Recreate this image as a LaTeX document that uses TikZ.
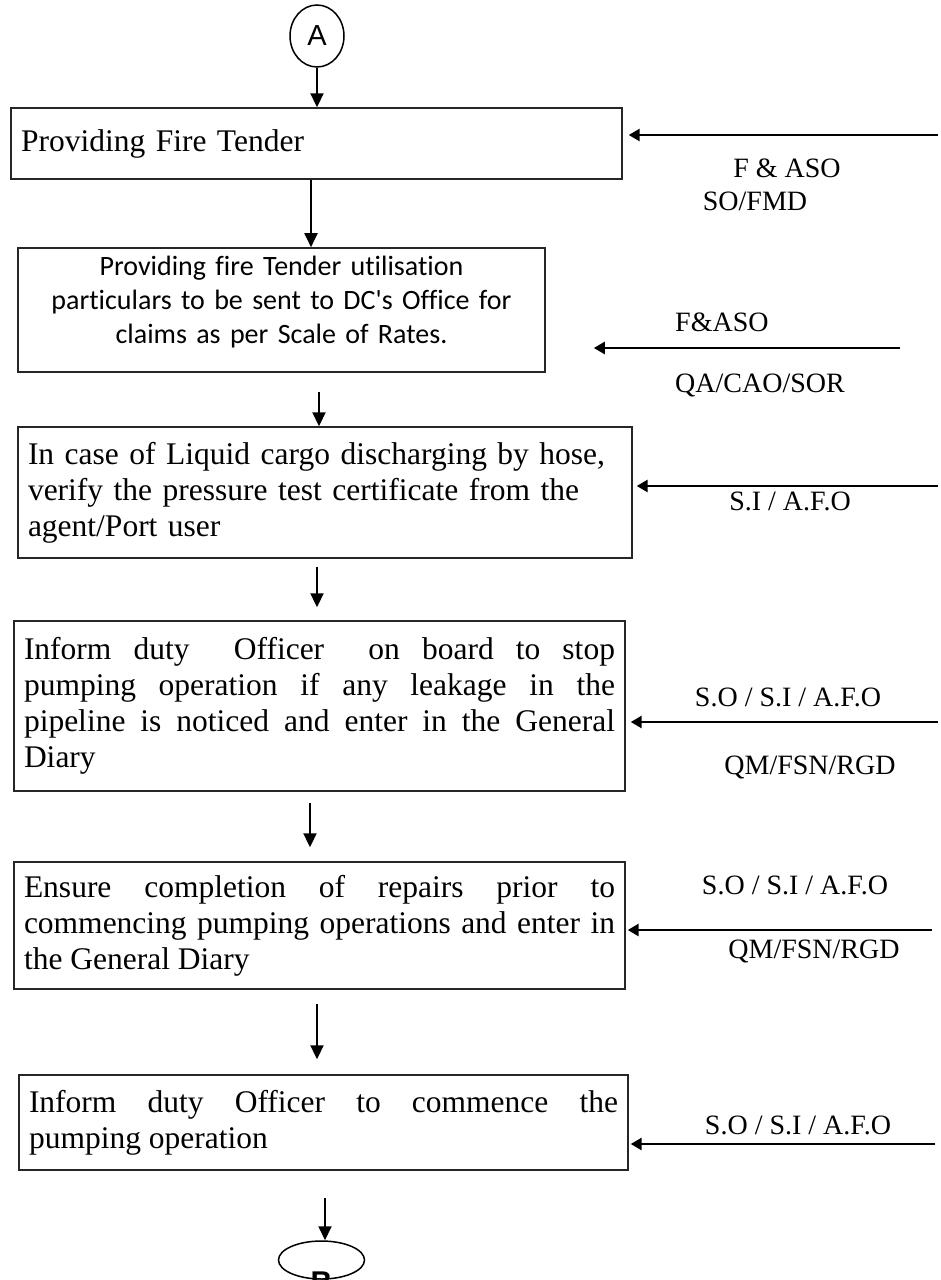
\documentclass[tikz,border=0pt]{standalone}
\usepackage{fontspec}
\setmainfont[Ligatures={NoCommon}]{Liberation Serif}
\newfontfamily\calfont[Ligatures={NoCommon}]{Carlito}
\newfontfamily\arialfont{Liberation Sans}
\usetikzlibrary{arrows.meta,shapes.geometric}

\begin{document}
\begin{tikzpicture}[x=1pt,y=-1pt,
  box/.style={draw=black!85, line width=1.4pt, rectangle, inner xsep=10pt, inner ysep=0pt,
              font=\fontsize{31.5}{36}\selectfont},
  downarrow/.style={line width=1.9pt, -{Triangle[length=14pt,width=13pt]}},
  sidearrow/.style={line width=2.6pt, -{Triangle[length=11pt,width=12pt]}},
  lbl/.style={font=\fontsize{28}{32}\selectfont, inner sep=0pt},
  connector/.style={draw, line width=1.5pt, ellipse, inner sep=0pt},
]
\clip (0,0) rectangle (940,1280);
\fill[white] (0,0) rectangle (940,1280);

% entry connector
\node[connector, minimum width=54pt, minimum height=62pt,
      font=\arialfont\fontsize{29}{29}\selectfont] (A) at (317,36) {A};

% process boxes
\node[box, minimum width=611pt, minimum height=71pt, text width=591pt, align=left]
  (b1) at (316.5,143.5) {Providing Fire Tender};

\node[box, line width=1.6pt, minimum width=527pt, minimum height=124pt] (b2) at (281.5,310) {};
\node[anchor=north, align=center, inner sep=0pt, text width=520pt,
      font=\calfont\fontsize{28}{34}\selectfont] (b2text) at (281.5,256)
  {Providing fire Tender utilisation\\
   particulars to be sent to DC's Office for\\
   claims as per Scale of Rates.};

\node[box, minimum width=614pt, minimum height=131pt, text width=594pt, align=left]
  (b3) at (325,492.5)
  {In case of Liquid cargo discharging by hose,\\
   verify the pressure test certificate from the\\
   agent/Port user};

\node[box, minimum width=611pt, minimum height=170pt, text width=591pt, align=justify]
  (b4) at (319.5,706)
  {Inform duty\ \ Officer\ \ on board to stop\linebreak
   pumping operation if any leakage in the\linebreak
   pipeline is noticed and enter in the General\linebreak
   Diary};

\node[box, minimum width=611pt, minimum height=127pt, text width=591pt, align=justify]
  (b5) at (319.5,925.5)
  {Ensure completion of repairs prior to\linebreak
   commencing pumping operations and enter in\linebreak
   the General Diary};

\node[box, minimum width=609pt, minimum height=95pt, text width=589pt, align=justify]
  (b6) at (323.5,1122.5)
  {Inform duty Officer to commence the\linebreak
   pumping operation};

% exit connector
\node[connector, minimum width=86pt, minimum height=38pt] (Bc) at (321.5,1260) {};
\node[inner sep=0pt, font=\arialfont\bfseries\fontsize{30}{30}\selectfont] (Bt) at (321.5,1282) {B};

% flow arrows
\draw[downarrow] (A.south) -- (A.south |- b1.north);
\coordinate (s12) at (311,0);
\draw[downarrow] (s12 |- b1.south) -- (s12 |- b2.north);
\coordinate (s23) at (319,392);
\draw[downarrow] (s23) -- (s23 |- b3.north);
\coordinate (s34) at (317,567);
\draw[downarrow, shorten >=13pt] (s34) -- (s34 |- b4.north);
\coordinate (s45) at (310,803);
\draw[downarrow, shorten >=14pt] (s45) -- (s45 |- b5.north);
\coordinate (s56) at (317,1004);
\draw[downarrow, shorten >=15pt] (s56) -- (s56 |- b6.north);
\coordinate (s6B) at (325,1198);
\draw[downarrow] (s6B) -- (s6B |- Bc.north);

% responsibility arrows
\coordinate (r1) at (938,135);
\draw[sidearrow, shorten >=6pt] (r1) -- (r1 -| b1.east);
\coordinate (r2) at (900,348);
\draw[sidearrow, shorten >=48pt] (r2) -- (r2 -| b2.east);
\coordinate (r3) at (938,486);
\draw[sidearrow, shorten >=4pt] (r3) -- (r3 -| b3.east);
\coordinate (r4) at (938,722);
\draw[sidearrow, shorten >=5pt] (r4) -- (r4 -| b4.east);
\coordinate (r5) at (932,930);
\draw[sidearrow, shorten >=2pt] (r5) -- (r5 -| b5.east);
\coordinate (r6) at (935,1144);
\draw[sidearrow, shorten >=2pt] (r6) -- (r6 -| b6.east);

% responsibility labels
\node[lbl] (l1a) at (787,168) {F \& ASO};
\node[lbl] (l1b) at (755,201) {SO/FMD};
\node[lbl, anchor=west] (l2a) at (675,322) {F\&ASO};
\node[lbl, anchor=west] (l2b) at (675,385) {QA/CAO/SOR};
\node[lbl] (l3) at (790,501) {S.I / A.F.O};
\node[lbl] (l4a) at (788,697) {S.O / S.I / A.F.O};
\node[lbl] (l4b) at (810,767) {QM/FSN/RGD};
\node[lbl] (l5a) at (795,885) {S.O / S.I / A.F.O};
\node[lbl] (l5b) at (814,951) {QM/FSN/RGD};
\node[lbl] (l6) at (798,1125) {S.O / S.I / A.F.O};
\end{tikzpicture}
\end{document}
